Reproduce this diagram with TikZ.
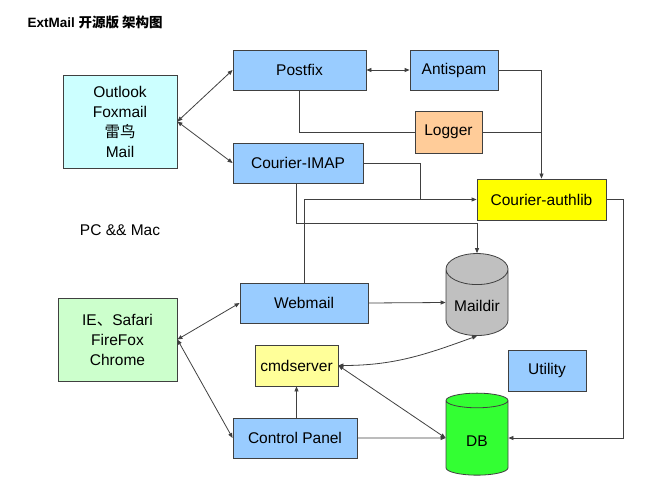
\documentclass[tikz,border=0pt]{standalone}
\usepackage{fontspec}
\setmainfont{Liberation Sans}
\newfontfamily\cjk{Noto Sans CJK SC}
\usetikzlibrary{arrows.meta,shapes.geometric}
\definecolor{mailblue}{HTML}{99CCFF}
\definecolor{pccyan}{HTML}{CCFFFF}
\definecolor{webgreen}{HTML}{CCFFCC}
\definecolor{logorange}{HTML}{FFCC99}
\definecolor{authyellow}{HTML}{FFFF00}
\definecolor{cmdyellow}{HTML}{FFFF99}
\definecolor{dirgray}{HTML}{C0C0C0}
\definecolor{dbgreen}{HTML}{33FF33}
\definecolor{edge}{HTML}{404040}
\newcommand{\lowtext}[1]{\raisebox{-6pt}[8pt][3pt]{#1}}
\tikzset{
  tip/.tip={Triangle[length=5pt,width=4pt]},
  box/.style={draw=edge, line width=0.8pt, minimum height=40, inner sep=0pt,
    font=\fontsize{15.5pt}{20pt}\selectfont, align=center},
  store/.style={cylinder, shape border rotate=90, aspect=0.68, draw=edge,
    line width=0.8pt, minimum width=62, minimum height=82, inner sep=0pt,
    font=\fontsize{15.5pt}{20pt}\selectfont},
  link/.style={draw=edge, line width=0.8pt}
}
\begin{document}
\begin{tikzpicture}[x=1pt,y=-1pt]
\useasboundingbox (0,0) rectangle (660,486);
% title and client groups
\node[anchor=west, font=\fontsize{13.5pt}{16pt}\selectfont\bfseries] (title) at (24,22) {ExtMail {\cjk 开源版 架构图}};
\node[box, fill=pccyan, minimum width=114, minimum height=93] (pc) at (120,121.5) {Outlook\\Foxmail\\{\cjk 雷鸟}\\Mail};
\node[font=\fontsize{15.5pt}{20pt}\selectfont] (pclabel) at (120,230) {PC \&\& Mac};
\node[box, fill=webgreen, minimum width=119, minimum height=83] (web) at (117.5,339.5) {IE{\cjk 、}Safari\\FireFox\\Chrome};
% servers
\node[box, fill=mailblue, minimum width=133] (postfix) at (299.5,70) {Postfix};
\node[box, fill=mailblue, minimum width=88] (antispam) at (454,70) {Antispam};
\node[box, fill=logorange, minimum width=67, minimum height=42] (logger) at (448.5,132) {Logger};
\node[box, fill=mailblue, minimum width=130] (imap) at (298,163) {Courier-IMAP};
\node[box, fill=authyellow, minimum width=129, minimum height=41] (authlib) at (541.5,199.5) {Courier-authlib};
\node[box, fill=mailblue, minimum width=128] (webmail) at (304,303) {Webmail};
\node[store, fill=dirgray] (maildir) at (477,302.5) {\lowtext{Maildir}};
\node[box, fill=cmdyellow, minimum width=83, minimum height=41] (cmdserver) at (296.5,365.5) {cmdserver};
\node[box, fill=mailblue, minimum width=78, minimum height=41] (utility) at (547,370.5) {Utility};
\node[box, fill=mailblue, minimum width=124] (cpanel) at (295,438) {Control Panel};
\node[store, fill=dbgreen] (db) at (477,438) {\lowtext{DB}};
\coordinate (imapturn) at (420,199.5);
% connectors
\draw[link, tip-tip] (pc.east) -- (postfix.west);
\draw[link, tip-tip] (pc.east) -- (imap.west);
\draw[link, tip-tip] (postfix.east) -- (antispam.west);
\draw[link] (postfix.south) |- (logger.west);
\draw[link] (logger.east) -- (logger.east -| authlib.north);
\draw[link, -tip] (antispam.east) -| (authlib.north);
\draw[link] (imap.east) -| (imapturn);
\draw[link, -tip] (webmail.north) |- (authlib.west);
\draw[link, -tip] ([xshift=-2]imap.south) -- ++(0,40) -| (maildir.north);
\draw[link, -tip] (webmail.east) -- (maildir.west);
\draw[link, tip-tip] (maildir.south) to[out=200, in=0] (cmdserver.east);
\draw[link, tip-tip] (cmdserver.east) -- (db.west);
\draw[link, -tip] (cpanel.east) -- (db.west);
\draw[link, -tip] (cmdserver.south |- cpanel.north) -- (cmdserver.south);
\draw[link, -tip] (authlib.east) -- ++(17,0) |- (db.east);
\draw[link, tip-tip] (web.east) -- (webmail.west);
\draw[link, tip-tip] (web.east) -- (cpanel.west);
\end{tikzpicture}
\end{document}
